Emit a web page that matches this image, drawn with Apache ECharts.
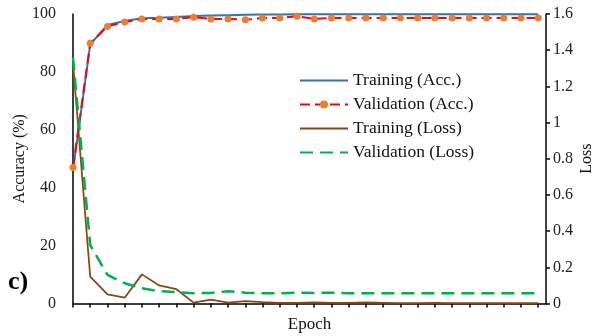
<!DOCTYPE html>
<html>
<head>
<meta charset="utf-8">
<script src="https://cdn.jsdelivr.net/npm/echarts@6/dist/echarts.min.js"></script>
<style>
  html, body { margin: 0; padding: 0; background: #fff; }
  #chart { width: 595px; height: 336px; }
</style>
</head>
<body>
<div id="chart"></div>
<script>
// Epoch index (x) and per-epoch metrics
const epochs = [1,2,3,4,5,6,7,8,9,10,11,12,13,14,15,16,17,18,19,20,21,22,23,24,25,26,27,28];

const trainAcc = [46.0,89.5,96.2,97.6,98.5,98.7,99.0,99.3,99.5,99.6,99.7,99.8,99.8,99.9,99.9,99.9,99.9,99.9,99.9,99.9,99.9,99.9,99.9,99.9,99.9,99.9,99.9,99.9];
const valAcc   = [47.0,89.9,95.7,97.2,98.3,98.3,98.3,98.9,98.3,98.3,98.0,98.6,98.6,99.2,98.3,98.6,98.6,98.6,98.6,98.6,98.6,98.6,98.6,98.6,98.6,98.6,98.6,98.6];
const trainLoss = [1.33,0.148,0.051,0.032,0.161,0.100,0.079,0.005,0.021,0.005,0.013,0.008,0.004,0.003,0.006,0.004,0.003,0.006,0.004,0.002,0.002,0.003,0.002,0.002,0.002,0.002,0.002,0.002];
const valLoss   = [1.36,0.323,0.158,0.112,0.084,0.068,0.063,0.057,0.058,0.068,0.060,0.056,0.056,0.060,0.058,0.060,0.056,0.056,0.056,0.056,0.056,0.056,0.056,0.056,0.056,0.056,0.056,0.056];

const accTicks  = [0, 20, 40, 60, 80, 100];
const lossTicks = [0, 0.2, 0.4, 0.6, 0.8, 1, 1.2, 1.4, 1.6];

const FONT = "'Liberation Serif', 'Times New Roman', serif";
const pairs = (ys) => epochs.map((e, i) => [e, ys[i]]);
// legend entry for a plain line (no marker in the key)
const lineOnly = (name) => ({ name: name, itemStyle: { opacity: 0 } });

const chart = echarts.init(document.getElementById('chart'), null, { renderer: 'canvas' });

chart.setOption({
  animation: false,
  backgroundColor: '#ffffff',
  textStyle: { fontFamily: FONT },
  grid: { left: 73, right: 49, top: 14, bottom: 32.5, containLabel: false, outerBoundsMode: 'none' },
  graphic: [{
    type: 'text',
    left: 8,
    top: 269,
    style: { text: 'c)', font: 'bold 26px ' + FONT, fill: '#000' }
  }],
  legend: {
    orient: 'vertical',
    left: 294,
    top: 66.5,
    itemWidth: 48,
    itemHeight: 10,
    itemGap: 6,
    textStyle: { fontFamily: FONT, fontSize: 17.5, color: '#111' },
    data: [
      lineOnly('Training (Acc.)'),
      { name: 'Validation (Acc.)' },
      lineOnly('Training (Loss)'),
      lineOnly('Validation (Loss)')
    ]
  },
  xAxis: {
    type: 'value',
    min: 1,
    max: 28.45,
    interval: 1,
    name: 'Epoch',
    nameLocation: 'middle',
    nameGap: 13,
    nameMoveOverlap: false,
    nameTextStyle: { fontFamily: FONT, fontSize: 17, color: '#111', verticalAlign: 'top' },
    axisLine: { show: true, lineStyle: { color: '#000', width: 1.5 } },
    axisTick: { show: true, inside: false, length: 4, lineStyle: { color: '#000', width: 1.5 }, customValues: epochs },
    axisLabel: { show: false },
    splitLine: { show: false }
  },
  yAxis: [{
    type: 'value',
    min: 0,
    max: 100,
    interval: 20,
    position: 'left',
    name: 'Accuracy (%)',
    nameLocation: 'middle',
    nameRotate: 90,
    nameGap: 45,
    nameMoveOverlap: false,
    nameTextStyle: { fontFamily: FONT, fontSize: 16, color: '#111' },
    axisLine: { show: true, lineStyle: { color: '#000', width: 1.5 } },
    axisTick: { show: false },
    axisLabel: {
      margin: 17, fontFamily: FONT, fontSize: 16, color: '#222',
      customValues: accTicks
    },
    splitLine: { show: false }
  }, {
    type: 'value',
    min: 0,
    max: 1.6,
    interval: 0.2,
    position: 'right',
    name: 'Loss',
    nameLocation: 'middle',
    nameRotate: 90,
    nameGap: 33,
    nameMoveOverlap: false,
    nameTextStyle: { fontFamily: FONT, fontSize: 16, color: '#111' },
    axisLine: { show: true, lineStyle: { color: '#000', width: 1.5 } },
    axisTick: { show: true, inside: false, length: 4, lineStyle: { color: '#000', width: 1.5 } },
    axisLabel: {
      margin: 7, fontFamily: FONT, fontSize: 16, color: '#222',
      formatter: (v) => String(Math.round(v * 10) / 10),
      customValues: lossTicks
    },
    splitLine: { show: false }
  }],
  series: [{
    name: 'Training (Acc.)',
    type: 'line',
    yAxisIndex: 0,
    data: pairs(trainAcc),
    symbol: 'none',
    lineStyle: { color: '#2E75B6', width: 2 },
    itemStyle: { color: '#2E75B6' }
  }, {
    name: 'Validation (Acc.)',
    type: 'line',
    yAxisIndex: 0,
    data: pairs(valAcc),
    symbol: 'circle',
    symbolSize: 7,
    lineStyle: { color: '#FF0000', width: 2, type: [10, 5] },
    itemStyle: { color: '#ED7D31', borderWidth: 0 }
  }, {
    name: 'Training (Loss)',
    type: 'line',
    yAxisIndex: 1,
    data: pairs(trainLoss),
    symbol: 'none',
    lineStyle: { color: '#8B4513', width: 1.75 },
    itemStyle: { color: '#8B4513' }
  }, {
    name: 'Validation (Loss)',
    type: 'line',
    yAxisIndex: 1,
    data: pairs(valLoss),
    symbol: 'none',
    lineStyle: { color: '#00B050', width: 2.5, type: [13, 7] },
    itemStyle: { color: '#00B050' }
  }]
});
</script>
</body>
</html>
